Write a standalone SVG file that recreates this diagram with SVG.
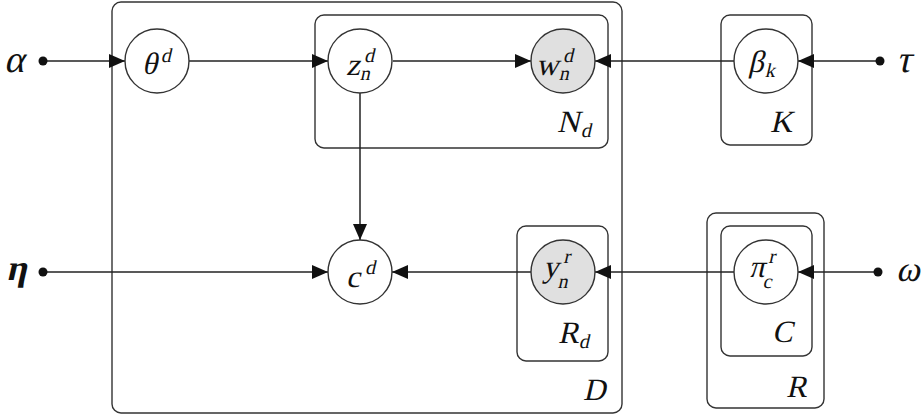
<svg xmlns="http://www.w3.org/2000/svg" width="923" height="416" viewBox="0 0 923 416">
<defs>
<marker id="ah" viewBox="0 0 16 14" refX="16" refY="7" markerWidth="16" markerHeight="14" markerUnits="userSpaceOnUse" orient="auto">
<path d="M0,0 L16,7 L0,14 Z" fill="#111"/>
</marker>
</defs>
<rect width="923" height="416" fill="#fff"/>
<g id="plates" fill="none" stroke="#333" stroke-width="1.4">
<rect id="plate-D" x="112" y="2" width="510" height="411" rx="9"/>
<rect id="plate-Nd" x="315" y="15" width="293" height="133" rx="9"/>
<rect id="plate-K" x="721" y="15" width="91" height="130" rx="9"/>
<rect id="plate-Rd" x="517" y="226" width="91" height="135" rx="9"/>
<rect id="plate-R" x="707" y="213" width="117" height="195" rx="9"/>
<rect id="plate-C" x="721" y="226" width="91" height="130" rx="9"/>
</g>
<g id="plate-labels" font-family="Liberation Serif" font-size="31" fill="#111">
<text transform="translate(557,132) skewX(-13)">N<tspan font-size="20" x="25" y="5">d</tspan></text>
<text transform="translate(770,132) skewX(-13)">K</text>
<text transform="translate(558,343) skewX(-13)">R<tspan font-size="20" x="22" y="5">d</tspan></text>
<text transform="translate(583,400) skewX(-13)">D</text>
<text transform="translate(772,342) skewX(-13)">C</text>
<text transform="translate(786,397) skewX(-13)">R</text>
</g>
<g id="connectors" stroke="#222" stroke-width="1.5" fill="none" marker-end="url(#ah)">
<line x1="43" y1="61" x2="125" y2="61"/>
<line x1="189" y1="61" x2="328" y2="61"/>
<line x1="393" y1="61" x2="531" y2="61"/>
<line x1="734" y1="61" x2="595" y2="61"/>
<line x1="880" y1="61" x2="798" y2="61"/>
<line x1="360" y1="93" x2="360" y2="240"/>
<line x1="43" y1="272" x2="328" y2="272"/>
<line x1="531" y1="272" x2="392" y2="272"/>
<line x1="734" y1="272" x2="595" y2="272"/>
<line x1="878" y1="272" x2="798" y2="272"/>
</g>
<g id="alpha"><circle cx="43" cy="61" r="4.5" fill="#111"/><text font-family="Liberation Serif" font-size="38" fill="#111" transform="translate(4,72) skewX(-13)">α</text></g>
<g id="tau"><circle cx="880" cy="61" r="4.5" fill="#111"/><text font-family="Liberation Serif" font-size="38" fill="#111" transform="translate(896,72) skewX(-13)">τ</text></g>
<g id="eta"><circle cx="43" cy="272" r="4.5" fill="#111"/><text font-family="Liberation Serif" font-weight="bold" font-size="36" fill="#111" transform="translate(6,280) skewX(-13)">η</text></g>
<g id="omega"><circle cx="878" cy="272" r="4.5" fill="#111"/><text font-family="Liberation Serif" font-size="36" fill="#111" transform="translate(896,281) skewX(-13)">ω</text></g>
<g id="theta"><circle cx="157" cy="61" r="32" fill="#fff" stroke="#333" stroke-width="1.4"/><text font-family="Liberation Serif" font-size="31" fill="#111" transform="translate(142,74) skewX(-13)">θ<tspan font-size="20" x="16" y="-12">d</tspan></text></g>
<g id="z"><circle cx="360" cy="61" r="32" fill="#fff" stroke="#333" stroke-width="1.4"/><text font-family="Liberation Serif" font-size="31" fill="#111" transform="translate(346,75) skewX(-13)">z<tspan font-size="20" x="15" y="-13">d</tspan><tspan font-size="20" x="15" y="5">n</tspan></text></g>
<g id="w"><circle cx="563" cy="61" r="32" fill="#e0e0e0" stroke="#333" stroke-width="1.4"/><text font-family="Liberation Serif" font-size="31" fill="#111" transform="translate(536,75) skewX(-13)">w<tspan font-size="20" x="24" y="-13">d</tspan><tspan font-size="20" x="24" y="5">n</tspan></text></g>
<g id="beta"><circle cx="766" cy="61" r="32" fill="#fff" stroke="#333" stroke-width="1.4"/><text font-family="Liberation Serif" font-size="31" fill="#111" transform="translate(748,72) skewX(-13)">β<tspan font-size="20" x="18" y="5">k</tspan></text></g>
<g id="c"><circle cx="360" cy="272" r="32" fill="#fff" stroke="#333" stroke-width="1.4"/><text font-family="Liberation Serif" font-size="31" fill="#111" transform="translate(346,287) skewX(-13)">c<tspan font-size="20" x="16" y="-13">d</tspan></text></g>
<g id="y"><circle cx="563" cy="272" r="32" fill="#e0e0e0" stroke="#333" stroke-width="1.4"/><text font-family="Liberation Serif" font-size="31" fill="#111" transform="translate(543,277) skewX(-13)">y<tspan font-size="20" x="17" y="-14">r</tspan><tspan font-size="20" x="17" y="11">n</tspan></text></g>
<g id="pi"><circle cx="766" cy="272" r="32" fill="#fff" stroke="#333" stroke-width="1.4"/><text font-family="Liberation Serif" font-size="31" fill="#111" transform="translate(749,277) skewX(-13)">π<tspan font-size="20" x="16" y="-14">r</tspan><tspan font-size="20" x="16" y="11">c</tspan></text></g>
</svg>
